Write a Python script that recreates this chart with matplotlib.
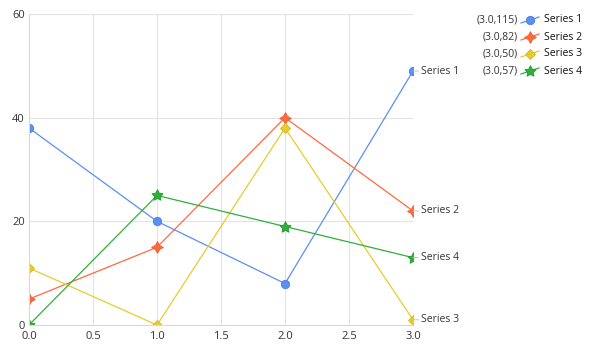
import matplotlib
matplotlib.use("Agg")
import matplotlib.pyplot as plt
from matplotlib.lines import Line2D

x = [0.0, 1.0, 2.0, 3.0]
series_names = ["Series 1", "Series 2", "Series 3", "Series 4"]
s1 = [38, 20, 8, 49]
s2 = [5, 15, 40, 22]
s3 = [11, 0, 38, 1]
s4 = [0, 25, 19, 13]
legend_values = ["(3.0,115)", "(3.0,82)", "(3.0,50)", "(3.0,57)"]
xticks = [0.0, 0.5, 1.0, 1.5, 2.0, 2.5, 3.0]
yticks = [0, 20, 40, 60]

colors = ["#5b8ff0", "#ff6a3d", "#e6cc2e", "#2eb03a"]
edge = ["#4a7ee0", "#f05a30", "#d4b820", "#229a2e"]
markers = ["o", (4, 1, 0), "D", (5, 1, 0)]
msizes = [6, 8.5, 5.5, 8.5]

plt.rcParams['font.family'] = ['Open Sans', 'DejaVu Sans']

W, H = 592, 351
fig = plt.figure(figsize=(W / 100, H / 100), dpi=100)
L, R, T, B = 29, 413, 14, 325
ax = fig.add_axes([L / W, (H - B) / H, (R - L) / W, (B - T) / H])
ax.set_xlim(0, 3)
ax.set_ylim(0, 60)

for sp in ["top", "right"]:
    ax.spines[sp].set_visible(False)
for sp in ["left", "bottom"]:
    ax.spines[sp].set_color("#d9d9d9")
    ax.spines[sp].set_linewidth(0.8)
ax.set_xticks(xticks)
ax.set_xticklabels([f"{v:.1f}" for v in xticks])
ax.set_yticks(yticks)
ax.grid(True, color="#e3e3e3", linewidth=0.8)
ax.set_axisbelow(True)
ax.tick_params(axis="both", length=0, labelsize=8, colors="#333333", pad=4)
ax.tick_params(axis="y", pad=3)

all_series = [s1, s2, s3, s4]
for name, ys, c, ec, m, ms in zip(series_names, all_series, colors, edge, markers, msizes):
    ax.plot(x, ys, color=c, linewidth=0.9, marker=m, markersize=ms,
            markerfacecolor=c, markeredgecolor=ec, markeredgewidth=0.6, clip_on=True)
    ax.annotate(name, xy=(x[-1], ys[-1]), xytext=(6, 0), textcoords="offset points",
                ha="left", va="center", fontsize=7.5, color="#333333",
                annotation_clip=False,
                arrowprops=dict(arrowstyle="-", color="#bbbbbb", lw=0.6, shrinkA=0, shrinkB=0))

rows_y = [20, 37, 54, 71]
for i, (name, val) in enumerate(zip(series_names, legend_values)):
    yf = 1 - rows_y[i] / H
    fig.text(518 / W, yf, val, ha="right", va="center", fontsize=7.5, color="#333333")
    ln = Line2D([521 / W, 539 / W], [yf - 3 / H, yf + 3 / H], transform=fig.transFigure,
                color=colors[i], linewidth=0.9)
    fig.add_artist(ln)
    mk = Line2D([530 / W], [yf], transform=fig.transFigure, marker=markers[i],
                markersize=msizes[i], markerfacecolor=colors[i], markeredgecolor=edge[i],
                markeredgewidth=0.6, linestyle="none")
    fig.add_artist(mk)
    fig.text(544 / W, yf, name, ha="left", va="center", fontsize=7.5, color="#111111")

fig.savefig("out.png", dpi=100)
